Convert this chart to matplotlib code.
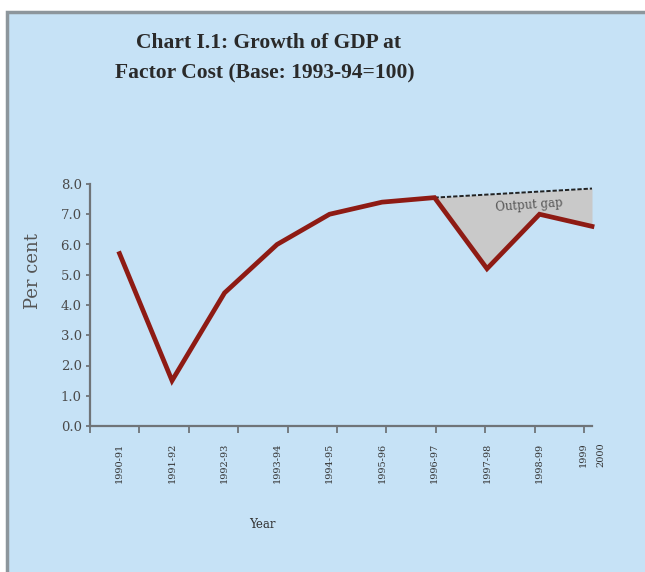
import numpy as np
import matplotlib.pyplot as plt
from matplotlib.patches import Rectangle

# Growth of GDP at factor cost, per cent
years = ['1990-91', '1991-92', '1992-93', '1993-94', '1994-95',
         '1995-96', '1996-97', '1997-98', '1998-99', '1999\n2000']
growth = [5.7, 1.5, 4.4, 6.0, 7.0, 7.4, 7.55, 5.2, 7.0, 6.6]

# Trend path used for the output gap (from 1996-97 on)
trend_years = ['1996-97', '1997-98', '1998-99', '1999\n2000']
trend = [7.55, 7.65, 7.75, 7.85]

y_ticks = [0, 1, 2, 3, 4, 5, 6, 7, 8]
y_ticklabels = ['0.0', '1.0', '2.0', '3.0', '4.0', '5.0', '6.0', '7.0', '8.0']

bg = '#c6e2f6'
axis_col = '#6f7478'
line_col = '#8e1b14'

fig = plt.figure(figsize=(6.45, 5.72), dpi=100)
fig.patch.set_facecolor('white')

# panel frame
fig.patches.append(Rectangle((7 / 645, -0.01), 1.0, 1 - 12 / 572 + 0.01,
                             transform=fig.transFigure, facecolor=bg,
                             edgecolor='#8d969c', linewidth=2.5, zorder=-10))

ax = fig.add_axes([90 / 645, 1 - 426 / 572, (592 - 90) / 645, (426 - 184) / 572])
ax.set_facecolor('none')

x = np.arange(len(years))
tx = np.arange(len(years) - len(trend_years), len(years))

ax.fill_between(tx, np.array(growth)[tx], trend, color='#c9c9c9',
                zorder=1, clip_on=False, linewidth=0)
ax.plot(tx, trend, color='#222222', linestyle=(0, (2.2, 1.0)),
        linewidth=1.4, zorder=3, clip_on=False)
ax.plot(x, growth, color=line_col, linewidth=3.4, zorder=4,
        solid_joinstyle='miter', clip_on=False)

ax.text(7.8, 7.3, 'Output gap', fontsize=8.5, color='#555555',
        family='DejaVu Serif', rotation=4, ha='center', va='center', zorder=5)

x_left, x_right = -0.5625, 8.85
ax.set_xlim(x_left, x_right)
ax.set_ylim(0, 8)

ax.set_xticks(x)
ax.set_xticklabels(years, rotation=90, fontsize=7, family='DejaVu Serif',
                   color='#333333', va='top', linespacing=2.2)
ax.set_xticks(np.linspace(x_left, x_right, 11), minor=True)
ax.tick_params(axis='x', which='major', length=0, pad=12)
ax.tick_params(axis='x', which='minor', length=5, width=1.3,
               color=axis_col, direction='out')

ax.set_yticks(y_ticks)
ax.set_yticklabels(y_ticklabels, fontsize=9.5, family='DejaVu Serif', color='#4a4a4a')
ax.tick_params(axis='y', length=3, width=1.3, color=axis_col, pad=3)

for side in ['top', 'right']:
    ax.spines[side].set_visible(False)
for side in ['left', 'bottom']:
    ax.spines[side].set_color(axis_col)
    ax.spines[side].set_linewidth(1.6)

fig.text(33 / 645, 1 - 271 / 572, 'Per cent', rotation=90, fontsize=13,
         family='DejaVu Serif', color='#555555', ha='center', va='center')
fig.text(262 / 645, 1 - 525 / 572, 'Year', fontsize=8.5, family='DejaVu Serif',
         color='#333333', ha='center', va='center')

fig.text(269 / 645, 1 - 43 / 572, 'Chart I.1: Growth of GDP at', fontsize=15.5,
         family='Liberation Serif', weight='bold', color='#2a2a2a',
         ha='center', va='center')
fig.text(265 / 645, 1 - 73 / 572, 'Factor Cost (Base: 1993-94=100)', fontsize=15.5,
         family='Liberation Serif', weight='bold', color='#2a2a2a',
         ha='center', va='center')

fig.savefig('out.png', dpi=100)
